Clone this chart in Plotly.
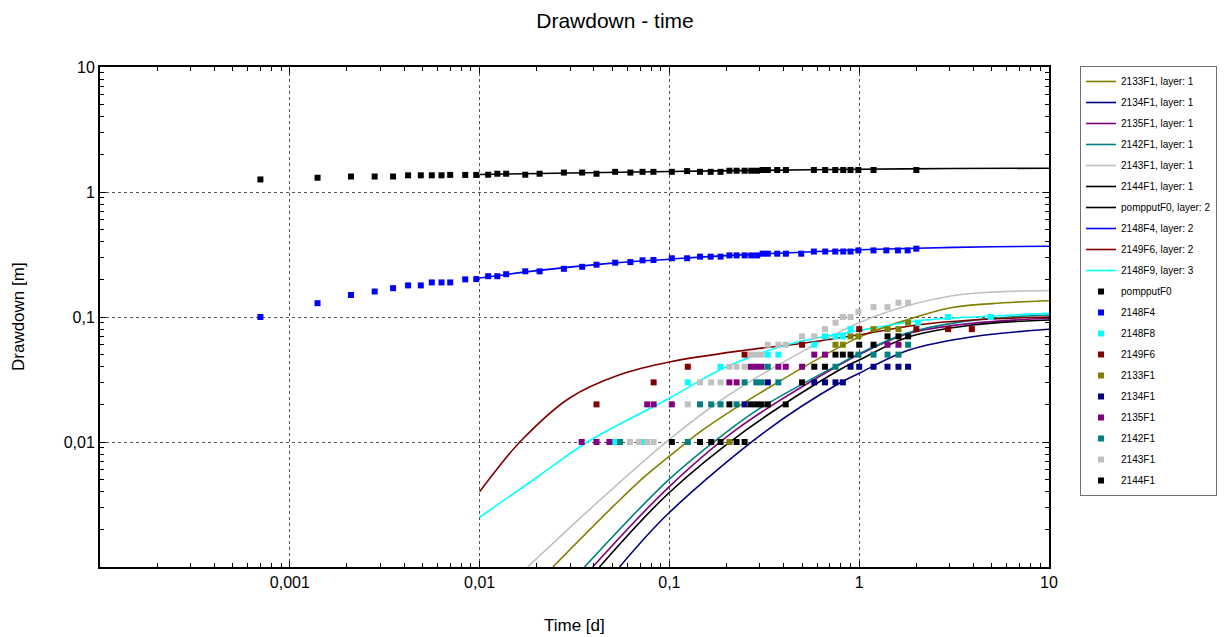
import plotly.graph_objects as go

# ---------------- data ----------------
# model curves (time [d], drawdown [m])
c2133F1_t = [0.0243, 0.0504, 0.0722, 0.1, 0.15, 0.298, 1.0, 1.83, 3.0, 5.0, 10]
c2133F1_s = [0.001, 0.00304, 0.00512, 0.0077, 0.0125, 0.0245, 0.069, 0.096, 0.118, 0.128, 0.135]
c2134F1_t = [0.0546, 0.099, 0.329, 0.785, 1.0, 1.83, 3.95, 10]
c2134F1_s = [0.001, 0.00269, 0.0125, 0.0295, 0.0355, 0.0544, 0.0695, 0.0798]
c2135F1_t = [0.0394, 0.099, 0.224, 0.785, 1.0, 1.83, 3.95, 10]
c2135F1_s = [0.001, 0.00434, 0.0125, 0.0413, 0.050, 0.074, 0.089, 0.0977]
c2142F1_t = [0.0357, 0.099, 0.207, 0.298, 0.785, 1.0, 1.83, 3.95, 10]
c2142F1_s = [0.001, 0.00497, 0.0125, 0.0185, 0.042, 0.051, 0.075, 0.094, 0.1038]
c2143F1_t = [0.0179, 0.0446, 0.1, 0.199, 0.446, 1.0, 1.83, 3.1, 5.0, 10]
c2143F1_s = [0.001, 0.0036, 0.0105, 0.023, 0.048, 0.09, 0.124, 0.148, 0.158, 0.163]
c2144F1_t = [0.0428, 0.099, 0.254, 0.785, 1.0, 1.83, 3.95, 10]
c2144F1_s = [0.001, 0.00389, 0.0125, 0.0377, 0.0453, 0.0695, 0.0863, 0.0947]
cpomp_t = [0.01, 0.03, 0.1, 0.3, 1, 3, 10]
cpomp_s = [1.38, 1.42, 1.46, 1.49, 1.52, 1.54, 1.55]
c2148F4_t = [0.01, 0.02, 0.05, 0.1, 0.2, 0.5, 1, 2, 5, 10]
c2148F4_s = [0.205, 0.235, 0.27, 0.29, 0.31, 0.33, 0.345, 0.355, 0.365, 0.368]
c2149F6_t = [0.01, 0.0113, 0.0163, 0.0298, 0.0546, 0.1, 0.254, 0.503, 1.0, 2.0, 3.95, 10]
c2149F6_s = [0.004, 0.0051, 0.01, 0.0225, 0.0345, 0.0437, 0.0544, 0.0616, 0.072, 0.0863, 0.0947, 0.1]
c2148F9_t = [0.01, 0.02, 0.037, 0.1, 0.2, 0.446, 1.0, 2.0, 4.0, 10]
c2148F9_s = [0.0025, 0.0052, 0.01, 0.0224, 0.04, 0.0616, 0.078, 0.093, 0.1, 0.107]

# observed drawdowns
opomp_t = [0.0007, 0.0014, 0.0021, 0.0028, 0.0035, 0.0042, 0.0049, 0.0056, 0.0063, 0.007,
           0.0084, 0.0096, 0.0111, 0.0124, 0.0138, 0.0174, 0.0207, 0.0278, 0.0347, 0.0413,
           0.0518, 0.0623, 0.0722, 0.0824, 0.103, 0.124, 0.145, 0.165, 0.186, 0.207, 0.226,
           0.249, 0.270, 0.290, 0.310, 0.330, 0.370, 0.411, 0.577, 0.662, 0.748, 0.824, 0.90,
           0.99, 1.19, 2.0]
opomp_s = [1.26, 1.30, 1.33, 1.33, 1.33, 1.36, 1.36, 1.36, 1.36, 1.37,
           1.37, 1.37, 1.375, 1.40, 1.40, 1.375, 1.40, 1.43, 1.43, 1.40,
           1.45, 1.43, 1.45, 1.45, 1.45, 1.47, 1.45, 1.45, 1.45, 1.48, 1.48,
           1.48, 1.48, 1.48, 1.50, 1.50, 1.50, 1.50, 1.50, 1.50, 1.50, 1.50, 1.50,
           1.50, 1.50, 1.50]
o2148F4_t = [0.0007, 0.0014, 0.0021, 0.0028, 0.0035, 0.0042, 0.0049, 0.0056, 0.0063, 0.007,
             0.0084, 0.0096, 0.0111, 0.0124, 0.0138, 0.0174, 0.0207, 0.0278, 0.0347, 0.0413,
             0.0518, 0.0623, 0.0722, 0.0824, 0.103, 0.124, 0.145, 0.165, 0.186, 0.207, 0.226,
             0.249, 0.270, 0.290, 0.310, 0.330, 0.370, 0.411, 0.495, 0.577, 0.662, 0.748,
             0.824, 0.90, 0.99, 1.19, 1.39, 1.60, 1.80, 2.0]
o2148F4_s = [0.100, 0.129, 0.150, 0.160, 0.170, 0.179, 0.179, 0.189, 0.189, 0.189,
             0.200, 0.201, 0.212, 0.212, 0.220, 0.232, 0.232, 0.243, 0.252, 0.262,
             0.272, 0.275, 0.284, 0.286, 0.295, 0.295, 0.304, 0.304, 0.304, 0.311, 0.311,
             0.311, 0.311, 0.311, 0.321, 0.321, 0.321, 0.321, 0.321, 0.334, 0.334, 0.334,
             0.334, 0.334, 0.341, 0.341, 0.341, 0.341, 0.341, 0.352]
o2148F8_t = [0.0518, 0.0722, 0.125, 0.186, 0.33, 0.375, 0.58, 0.66, 0.75, 0.82, 0.90, 2.04, 2.94, 4.93]
o2148F8_s = [0.01, 0.01, 0.03, 0.04, 0.05, 0.05, 0.06, 0.07, 0.07, 0.07, 0.08, 0.09, 0.1, 0.1]
o2149F6_t = [0.0413, 0.0826, 0.125, 0.249, 0.50, 1.0, 2.0, 2.94, 3.92]
o2149F6_s = [0.02, 0.03, 0.04, 0.05, 0.06, 0.08, 0.08, 0.08, 0.08]
o2133F1_t = [0.207, 0.75, 0.82, 0.90, 0.99, 1.19, 1.41, 1.61, 1.81]
o2133F1_s = [0.01, 0.06, 0.06, 0.07, 0.07, 0.08, 0.08, 0.08, 0.09]
o2134F1_t = [0.249, 0.33, 0.58, 0.66, 0.75, 0.82, 0.90, 1.0, 1.19, 1.41, 1.61, 1.81]
o2134F1_s = [0.02, 0.03, 0.03, 0.03, 0.03, 0.03, 0.04, 0.04, 0.04, 0.04, 0.04, 0.04]
o2135F1_t = [0.0345, 0.0413, 0.0483, 0.0764, 0.0826, 0.103, 0.207, 0.226, 0.268, 0.287, 0.306,
             0.375, 0.41, 0.50, 0.58, 0.66, 1.41, 1.61]
o2135F1_s = [0.01, 0.01, 0.01, 0.02, 0.02, 0.02, 0.03, 0.03, 0.04, 0.04, 0.04,
             0.04, 0.04, 0.04, 0.05, 0.05, 0.06, 0.06]
o2142F1_t = [0.055, 0.125, 0.145, 0.166, 0.186, 0.226, 0.249, 0.287, 0.306, 0.375, 0.33, 0.75,
             0.99, 1.19, 1.41, 1.61, 1.81]
o2142F1_s = [0.01, 0.01, 0.02, 0.02, 0.02, 0.02, 0.03, 0.03, 0.03, 0.03, 0.04, 0.04,
             0.05, 0.05, 0.05, 0.05, 0.06]
o2143F1_t = [0.062, 0.069, 0.0764, 0.0826, 0.125, 0.145, 0.166, 0.186, 0.207, 0.226, 0.249,
             0.268, 0.287, 0.306, 0.33, 0.375, 0.41, 0.50, 0.58, 0.66, 0.75, 0.82, 0.90,
             0.99, 1.19, 1.41, 1.61, 1.81]
o2143F1_s = [0.01, 0.01, 0.01, 0.01, 0.02, 0.03, 0.03, 0.03, 0.04, 0.04, 0.04,
             0.05, 0.05, 0.05, 0.06, 0.06, 0.06, 0.07, 0.07, 0.08, 0.09, 0.1, 0.1,
             0.11, 0.12, 0.12, 0.13, 0.13]
o2144F1_t = [0.103, 0.145, 0.166, 0.186, 0.226, 0.249, 0.207, 0.268, 0.287, 0.306, 0.33, 0.41,
             0.50, 0.58, 0.66, 0.75, 0.82, 0.90, 1.0, 1.19, 1.41, 1.61, 1.81]
o2144F1_s = [0.01, 0.01, 0.01, 0.01, 0.01, 0.01, 0.02, 0.02, 0.02, 0.02, 0.02, 0.02,
             0.03, 0.04, 0.04, 0.05, 0.05, 0.05, 0.06, 0.06, 0.07, 0.07, 0.07]

x_tickvals = [0.001, 0.01, 0.1, 1, 10]
x_ticktext = ["0,001", "0,01", "0,1", "1", "10"]
y_tickvals = [0.01, 0.1, 1, 10]
y_ticktext = ["0,01", "0,1", "1", "10"]

OLIVE, NAVY, PURPLE, TEAL = "#808000", "#000080", "#800080", "#008080"
SILVER, BLACK, BLUE, MAROON, CYAN = "#C0C0C0", "#000000", "#0000FF", "#800000", "#00FFFF"

curves = [
    ("2133F1, layer: 1", c2133F1_t, c2133F1_s, OLIVE),
    ("2134F1, layer: 1", c2134F1_t, c2134F1_s, NAVY),
    ("2135F1, layer: 1", c2135F1_t, c2135F1_s, PURPLE),
    ("2142F1, layer: 1", c2142F1_t, c2142F1_s, TEAL),
    ("2143F1, layer: 1", c2143F1_t, c2143F1_s, SILVER),
    ("2144F1, layer: 1", c2144F1_t, c2144F1_s, BLACK),
    ("pompputF0, layer: 2", cpomp_t, cpomp_s, BLACK),
    ("2148F4, layer: 2", c2148F4_t, c2148F4_s, BLUE),
    ("2149F6, layer: 2", c2149F6_t, c2149F6_s, MAROON),
    ("2148F9, layer: 3", c2148F9_t, c2148F9_s, CYAN),
]
obs = [
    ("pompputF0", opomp_t, opomp_s, BLACK),
    ("2148F4", o2148F4_t, o2148F4_s, BLUE),
    ("2148F8", o2148F8_t, o2148F8_s, CYAN),
    ("2149F6", o2149F6_t, o2149F6_s, MAROON),
    ("2133F1", o2133F1_t, o2133F1_s, OLIVE),
    ("2134F1", o2134F1_t, o2134F1_s, NAVY),
    ("2135F1", o2135F1_t, o2135F1_s, PURPLE),
    ("2142F1", o2142F1_t, o2142F1_s, TEAL),
    ("2143F1", o2143F1_t, o2143F1_s, SILVER),
    ("2144F1", o2144F1_t, o2144F1_s, BLACK),
]

fig = go.Figure()
for i, (name, t, s, col) in enumerate(curves):
    fig.add_trace(go.Scatter(x=t, y=s, mode="lines", name=name,
                             line=dict(color=col, width=1.6, shape="spline", smoothing=1.0),
                             legendgroup=f"c{i}"))
for i, (name, t, s, col) in enumerate(obs):
    fig.add_trace(go.Scatter(x=t, y=s, mode="markers", name=name,
                             marker=dict(color=col, size=6, symbol="square", line=dict(width=0)),
                             legendgroup=f"o{i}"))

FONT = "Liberation Sans, Arial, sans-serif"
axis_common = dict(
    type="log", showline=True, linecolor="black", linewidth=2, mirror="ticks",
    ticks="inside", ticklen=6, tickcolor="black", tickwidth=1,
    showgrid=True, gridcolor="#555555", gridwidth=1, griddash="dot",
    zeroline=False, tickmode="array", automargin=False,
    tickfont=dict(family=FONT, size=16, color="black"),
    minor=dict(ticks="inside", ticklen=4, tickcolor="black", dtick="D1", showgrid=False),
)
fig.update_xaxes(**axis_common, range=[-4, 1], tickvals=x_tickvals, ticktext=x_ticktext)
fig.update_yaxes(**axis_common, range=[-3, 1], tickvals=y_tickvals, ticktext=y_ticktext)

fig.add_annotation(text="Time [d]", xref="paper", yref="paper", x=0.5, y=-0.116,
                   xanchor="center", yanchor="middle", showarrow=False,
                   font=dict(family=FONT, size=17, color="black"))
fig.add_annotation(text="Drawdown [m]", xref="paper", yref="paper", x=-0.0864, y=0.5,
                   xanchor="center", yanchor="middle", showarrow=False, textangle=-90,
                   font=dict(family=FONT, size=17, color="black"))

fig.update_layout(
    width=1230, height=637,
    margin=dict(l=100, r=181, t=67, b=70),
    paper_bgcolor="white", plot_bgcolor="white",
    title=dict(text="Drawdown - time", x=0.5, xanchor="center", y=0.968, yanchor="middle",
               font=dict(family=FONT, size=21, color="black")),
    legend=dict(x=1.0327, xanchor="left", y=1.002, yanchor="top",
                bordercolor="#707070", borderwidth=1, bgcolor="white",
                font=dict(family=FONT, size=10, color="black"),
                tracegroupgap=2, itemwidth=30, maxheight=600),
    showlegend=True,
)

fig.write_html("out.html")
